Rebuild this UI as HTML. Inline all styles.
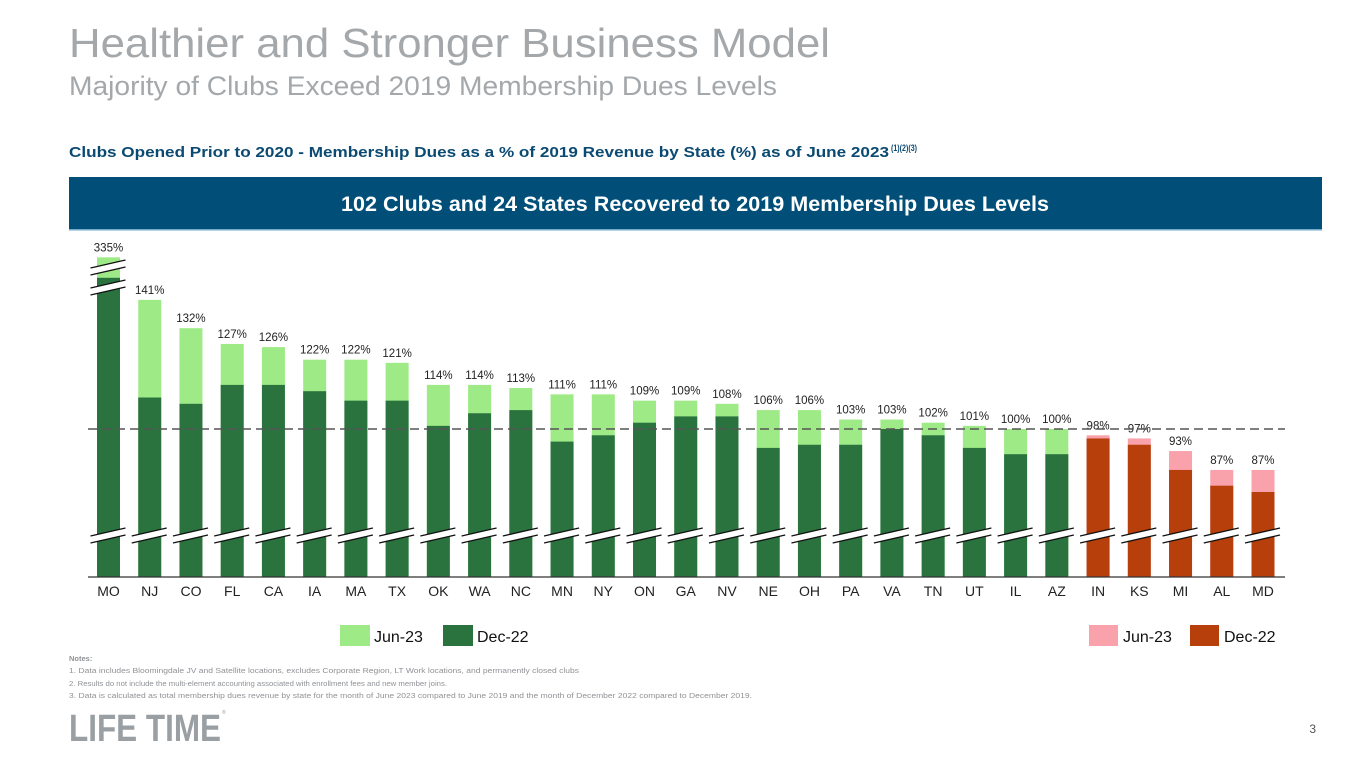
<!DOCTYPE html>
<html><head><meta charset="utf-8">
<style>
html,body{margin:0;padding:0;background:#fff;}
body{width:1365px;height:768px;overflow:hidden;font-family:"Liberation Sans",sans-serif;}
svg{display:block;}
</style></head>
<body>
<svg id="chart" width="1365" height="768" viewBox="0 0 1365 768" xmlns="http://www.w3.org/2000/svg">
  <text x="69" y="57" font-size="41" fill="#a4a8ab" textLength="761" lengthAdjust="spacingAndGlyphs">Healthier and Stronger Business Model</text>
  <text x="69" y="95" font-size="27" fill="#a4a8ab" textLength="708" lengthAdjust="spacingAndGlyphs">Majority of Clubs Exceed 2019 Membership Dues Levels</text>
  <text x="69" y="157" font-size="15" font-weight="bold" fill="#0b4a72" textLength="820" lengthAdjust="spacingAndGlyphs">Clubs Opened Prior to 2020 - Membership Dues as a % of 2019 Revenue by State (%) as of June 2023</text>
  <text x="891" y="151" font-size="9" font-weight="bold" fill="#0b4a72" textLength="26" lengthAdjust="spacingAndGlyphs">(1)(2)(3)</text>
  <rect x="69" y="177" width="1253" height="53" fill="#014f78"/>
  <line x1="69" y1="230" x2="1322" y2="230" stroke="#9cc7e0" stroke-width="1.5"/>
  <text x="695" y="211" font-size="21" font-weight="bold" fill="#fff" text-anchor="middle" textLength="708" lengthAdjust="spacingAndGlyphs">102 Clubs and 24 States Recovered to 2019 Membership Dues Levels</text>
  <g id="plot"></g>

  <rect x="340" y="625" width="30" height="21" fill="#9eea86"/>
  <text x="374" y="642" font-size="16" fill="#111">Jun-23</text>
  <rect x="443" y="625" width="30" height="21" fill="#2a733f"/>
  <text x="477" y="642" font-size="16" fill="#111">Dec-22</text>
  <rect x="1089" y="625" width="29" height="21" fill="#f9a2ab"/>
  <text x="1123" y="642" font-size="16" fill="#111">Jun-23</text>
  <rect x="1190" y="625" width="29" height="21" fill="#b63f0b"/>
  <text x="1224" y="642" font-size="16" fill="#111">Dec-22</text>

  <g font-size="7.5" fill="#8f9296">
    <text x="69" y="661" font-weight="bold">Notes:</text>
    <text x="69" y="673" textLength="510" lengthAdjust="spacingAndGlyphs">1.  Data includes Bloomingdale JV and Satellite locations, excludes Corporate Region, LT Work locations, and permanently closed clubs</text>
    <text x="69" y="686" textLength="378" lengthAdjust="spacingAndGlyphs">2.  Results do not include the multi-element accounting associated with enrollment fees and new member joins.</text>
    <text x="69" y="698" textLength="683" lengthAdjust="spacingAndGlyphs">3.  Data is calculated as total membership dues revenue by state for the month of June 2023 compared to June 2019 and the month of December 2022 compared to December 2019.</text>
  </g>
  <text x="69" y="741" font-size="38" font-weight="bold" fill="#9a9fa3" textLength="152" lengthAdjust="spacingAndGlyphs">LIFE TIME</text>
  <text x="222" y="714" font-size="5" fill="#9a9fa3">®</text>
  <text x="1316" y="733" font-size="12" fill="#555" text-anchor="end">3</text>
</svg>
<script>
const states = ["MO","NJ","CO","FL","CA","IA","MA","TX","OK","WA","NC","MN","NY","ON","GA","NV","NE","OH","PA","VA","TN","UT","IL","AZ","IN","KS","MI","AL","MD"];
const jun23 = [335,141,132,127,126,122,122,121,114,114,113,111,111,109,109,108,106,106,103,103,102,101,100,100,98,97,93,87,87];
const dec22 = [205,110,108,114,114,112,109,109,101,105,106,96,98,102,104,104,94,95,95,100,98,94,92,92,97,95,87,82,80];
const juneLabels = ["335%","141%","132%","127%","126%","122%","122%","121%","114%","114%","113%","111%","111%","109%","109%","108%","106%","106%","103%","103%","102%","101%","100%","100%","98%","97%","93%","87%","87%"];

const NS = "http://www.w3.org/2000/svg";
const plot = document.getElementById('plot');
const n = states.length;
const x0 = 108.5, x1 = 1263;
const xc = i => x0 + i * (x1 - x0) / (n - 1);
const disp = v => v > 145 ? 145 + (v - 145) * 0.05 : v;
const y = v => 429 - (disp(v) - 100) * 3.15;
const baseY = 577, bw = 23;
function el(tag, attrs){const e=document.createElementNS(NS,tag);for(const k in attrs)e.setAttribute(k,attrs[k]);plot.appendChild(e);return e;}

for (let i = 0; i < n; i++) {
  const cx = xc(i);
  const below = jun23[i] < 100;
  const light = below ? "#f9a2ab" : "#9eea86";
  const dark = below ? "#b63f0b" : "#2a733f";
  const top = Math.min(y(jun23[i]), y(dec22[i]));
  const r1 = el('rect', {x: cx - bw/2, y: y(jun23[i]), width: bw, height: baseY - y(jun23[i]), fill: light});
  
  
  const r2 = el('rect', {x: cx - bw/2, y: y(dec22[i]), width: bw, height: baseY - y(dec22[i]), fill: dark});
  
  
  const breaks = [540];
  if (jun23[i] > 145) { breaks.push(272, 292); }
  for (const by of breaks) {
    const b = el('polygon', {points: `${cx-18},${by-4} ${cx+17},${by-12} ${cx+17},${by-5} ${cx-18},${by+3}`, fill: '#fff'});
    
    
    el('line', {x1: cx-18, y1: by-4, x2: cx+17, y2: by-12, stroke: '#111', 'stroke-width': 1.3});
    el('line', {x1: cx-18, y1: by+3, x2: cx+17, y2: by-5, stroke: '#111', 'stroke-width': 1.3});
  }
  const lbl = el('text', {x: cx, y: top - 6, 'font-size': 11.5, fill: '#222', 'text-anchor': 'middle'});
  lbl.textContent = juneLabels[i];
  
  
  const t = el('text', {x: cx, y: 596, 'font-size': 14, fill: '#222', 'text-anchor': 'middle'});
  t.textContent = states[i];
  
  
}
const ref = el('line', {x1: 88, y1: y(100), x2: 1285, y2: y(100), stroke: '#555', 'stroke-width': 1.5, 'stroke-dasharray': '9,5'});


const ax = el('line', {x1: 88, y1: baseY, x2: 1285, y2: baseY, stroke: '#333', 'stroke-width': 1.2});


</script>
</body></html>
